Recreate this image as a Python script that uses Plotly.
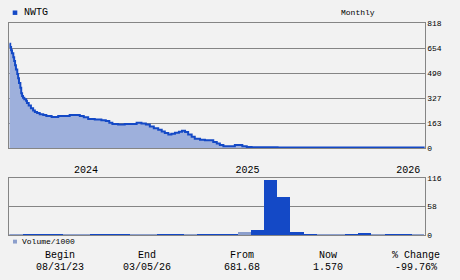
import plotly.graph_objects as go
import pandas as pd

# ---------------- data ----------------
ticker = "NWTG"
period_label = "Monthly"

price_dates = [
    "2023-08-01", "2023-08-03", "2023-08-05", "2023-08-07", "2023-08-10", "2023-08-12",
    "2023-08-14", "2023-08-16", "2023-08-19", "2023-08-21", "2023-08-23", "2023-08-26",
    "2023-08-28", "2023-08-30", "2023-09-01", "2023-09-04", "2023-09-08", "2023-09-10",
    "2023-09-14", "2023-09-19", "2023-09-24", "2023-09-28", "2023-10-03", "2023-10-09",
    "2023-10-17", "2023-10-24", "2023-11-05", "2023-11-20", "2023-12-05", "2023-12-16",
    "2023-12-28", "2024-01-08", "2024-01-17", "2024-01-27", "2024-02-11", "2024-02-26",
    "2024-03-07", "2024-03-15", "2024-03-22", "2024-04-04", "2024-04-19", "2024-05-05",
    "2024-05-16", "2024-05-27", "2024-06-06", "2024-06-15", "2024-06-24", "2024-07-04",
    "2024-07-12", "2024-07-19", "2024-07-27", "2024-08-03", "2024-08-11", "2024-08-20",
    "2024-08-27", "2024-09-03", "2024-09-10", "2024-09-18", "2024-09-25", "2024-10-07",
    "2024-10-18", "2024-10-29", "2024-11-06", "2024-11-14", "2024-11-21", "2024-11-29",
    "2024-12-10", "2024-12-25", "2025-01-02", "2025-01-11", "2025-01-21", "2025-02-01",
    "2025-04-01", "2025-07-01", "2025-10-01", "2026-01-01", "2026-03-01",
]
price_values = [
    681.68, 661, 640, 619, 594, 569,
    541, 514, 484, 457, 425, 394,
    358, 341, 330, 320, 310, 295,
    278, 261, 246, 236, 229, 221,
    217, 210, 204, 210, 210, 217,
    217, 210, 202, 191, 188, 183,
    177, 166, 158, 154, 158, 158,
    166, 162, 154, 141, 131, 120,
    109, 99, 90, 95, 101, 107,
    114, 105, 90, 74, 61, 55,
    52, 52, 40, 30, 21, 13,
    13, 21, 21, 13, 8, 6,
    5, 5, 4, 4, 3,
]

vol_months = [p.strftime("%Y-%m") for p in pd.period_range("2023-08", "2026-02", freq="M")]
vol_values = [
    3, 3.5, 3.5, 3.5, 3,
    3, 3.5, 3.5, 3.5, 3, 3, 3.5, 3.5, 3, 3.5, 3.5, 2,
    6.5, 10.4, 112, 77, 6.5, 3, 2, 2, 3, 4.5, 2.5, 3.5,
    3.5, 3,
]
vol_group = [
    0, 1, 1, 1, 0,
    0, 1, 1, 1, 0, 0, 1, 1, 0, 1, 1, 1,
    0, 1, 1, 1, 1, 1, 0, 0, 1, 1, 0, 1,
    1, 0,
]

price_ticks = [0, 163, 327, 490, 654, 818]
vol_ticks = [0, 58, 116]
year_tick_dates = ["2024-01-22", "2025-01-23", "2026-01-23"]
year_tick_labels = ["2024", "2025", "2026"]

stat_headers = ["Begin", "End", "From", "Now", "% Change"]
stat_values = ["08/31/23", "03/05/26", "681.68", "1.570", "-99.76%"]

# ---------------- style ----------------
W, H = 460, 280
BG = "#f2f2f2"
GRID = "#858585"
DARK = "#1449c6"
LIGHT = "#8c9fcc"
FILL = "#9eb0dc"
MONO = "Liberation Mono"


def px_x(x):
    return x / W


def px_y(y):
    return 1 - y / H


per = pd.PeriodIndex(vol_months, freq="M")
starts = per.start_time
ends = (per + 1).start_time
mids = starts + (ends - starts) / 2
widths = [(e - s).total_seconds() * 1000 for s, e in zip(starts, ends)]
bar_colors = [DARK if g else LIGHT for g in vol_group]

fig = go.Figure()
fig.add_trace(go.Scatter(
    x=price_dates, y=price_values, mode="lines", line_shape="hv",
    line=dict(color=DARK, width=2), fill="tozeroy", fillcolor=FILL,
    xaxis="x", yaxis="y", showlegend=False, hoverinfo="skip",
))
fig.add_trace(go.Bar(
    x=mids, y=vol_values, width=widths, marker=dict(color=bar_colors, line=dict(width=0)),
    xaxis="x2", yaxis="y2", showlegend=False, hoverinfo="skip",
))

xdom = [px_x(9.33), px_x(424.67)]
xrange = ["2023-08-01", "2026-03-01"]
axis_common = dict(showline=True, mirror=True, linecolor=GRID, linewidth=1, zeroline=False)

fig.update_layout(
    width=W, height=H, margin=dict(l=0, r=0, t=0, b=0),
    paper_bgcolor=BG, plot_bgcolor=BG, bargap=0,
    font=dict(family=MONO, color="#000000"),
    xaxis=dict(domain=xdom, anchor="y", range=xrange, type="date",
               showticklabels=False, showgrid=False, ticks="", **axis_common),
    yaxis=dict(domain=[px_y(149), px_y(19.5)], anchor="x", range=[0, 818], side="right",
               tickvals=price_ticks, ticktext=[str(v) for v in price_ticks],
               showgrid=True, gridcolor=GRID, gridwidth=1, ticks="",
               tickfont=dict(size=8, family=MONO), **axis_common),
    xaxis2=dict(domain=xdom, anchor="y2", range=xrange, type="date", side="top",
                tickvals=year_tick_dates, ticktext=year_tick_labels, showgrid=False, ticks="",
                tickfont=dict(size=10, family=MONO), **axis_common),
    yaxis2=dict(domain=[px_y(239), px_y(179.5)], anchor="x2", range=[0, 116], side="right",
                tickvals=vol_ticks, ticktext=[str(v) for v in vol_ticks],
                showgrid=True, gridcolor=GRID, gridwidth=1, ticks="",
                tickfont=dict(size=8, family=MONO), **axis_common),
)

shapes = [
    dict(type="rect", xref="paper", yref="paper", x0=px_x(12.7), x1=px_x(17.3),
         y0=px_y(11.3), y1=px_y(6.7), fillcolor=DARK, line=dict(width=0)),
    dict(type="rect", xref="paper", yref="paper", x0=px_x(13), x1=px_x(17),
         y0=px_y(247.5), y1=px_y(243.5), fillcolor=LIGHT, line=dict(width=0)),
]
annotations = [
    dict(text=ticker, x=px_x(22), y=px_y(9), xref="paper", yref="paper", xanchor="left",
         yanchor="middle", showarrow=False, font=dict(size=10, family=MONO)),
    dict(text=period_label, x=px_x(339), y=px_y(9), xref="paper", yref="paper", xanchor="left",
         yanchor="middle", showarrow=False, font=dict(size=8, family=MONO)),
    dict(text="Volume/1000", x=px_x(20), y=px_y(245.5), xref="paper", yref="paper", xanchor="left",
         yanchor="middle", showarrow=False, font=dict(size=8, family=MONO)),
]
stat_x = [60, 147, 242, 328, 416]
for sx, hd, vl in zip(stat_x, stat_headers, stat_values):
    annotations.append(dict(text=hd, x=px_x(sx), y=px_y(259.5), xref="paper", yref="paper",
                            xanchor="center", yanchor="middle", showarrow=False,
                            font=dict(size=10, family=MONO)))
    annotations.append(dict(text=vl, x=px_x(sx), y=px_y(272.7), xref="paper", yref="paper",
                            xanchor="center", yanchor="middle", showarrow=False,
                            font=dict(size=10, family=MONO)))
fig.update_layout(shapes=shapes, annotations=annotations)

fig.write_html("out.html")
